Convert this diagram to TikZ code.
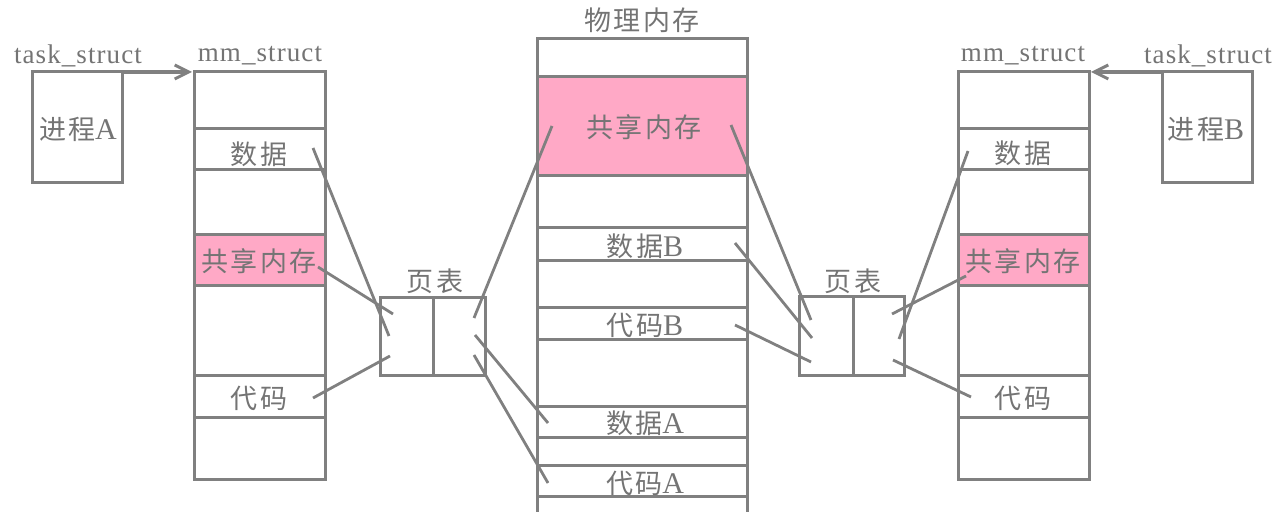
\documentclass[tikz,border=0pt]{standalone}
\usepackage{fontspec}
\setmainfont[LetterSpace=4]{Liberation Serif}
\newfontfamily\cjk[LetterSpace=8]{Noto Sans CJK SC}
\newfontfamily\lat{Liberation Serif}
\usetikzlibrary{arrows.meta}
\definecolor{ln}{HTML}{808080}
\definecolor{tx}{HTML}{747474}
\definecolor{pk}{HTML}{FFA9C6}
\tikzset{
  box/.style={draw=ln,line width=1.5pt},
  lbl/.style={text=tx,inner sep=0pt,font=\fontsize{13.5}{15}\selectfont},
  clbl/.style={text=tx,inner sep=0pt,font=\fontsize{13.5}{15}\selectfont\cjk},
  link/.style={draw=ln,line width=1.4pt},
  ptr/.style={draw=ln,line width=1.6pt,-{Straight Barb[length=7pt,width=7pt,line width=1.5pt]}},
}
\newcommand{\Lt}[1]{{\lat\fontsize{15}{15}\selectfont #1}}
\begin{document}
\begin{tikzpicture}[x=0.5pt,y=-0.5pt]
\useasboundingbox (0,0) rectangle (1280,512);
% ---------- left task_struct ----------
\node[lbl] (tsA) at (78,56) {task\_struct};
\draw[box] (32,72) rectangle (122,183);
\node[clbl] (pA) at (78,129) {进程\Lt{A}};
\coordinate (tA) at (122,72);
% ---------- left mm_struct ----------
\node[lbl] (mmA) at (260,56) {mm\_struct};
\fill[pk] (194,235) rectangle (325,286);
\draw[box] (194,72) rectangle (325,480);
\foreach \y in {129,170,235,286,376,418} \draw[box] (194,\y) -- (325,\y);
\coordinate (mA) at (192,72);
\node[clbl] (dA) at (259,154) {数据};
\node[clbl] (sA) at (259,261) {共享内存};
\node[clbl] (cA) at (259,398) {代码};
% ---------- left page table ----------
\node[clbl] (ptA) at (435,281) {页表};
\draw[box] (380,298) rectangle (485,376);
\draw[box] (433,298) -- (433,376);
% ---------- physical memory ----------
\node[clbl] (phy) at (642,20) {物理内存};
\fill[pk] (537,77) rectangle (747,176);
\draw[box] (537,513) -- (537,39) -- (747,39) -- (747,513);
\foreach \y in {77,176,228,261,308,340,407,438,466,497} \draw[box] (537,\y) -- (747,\y);
\node[clbl] (sP) at (644,127) {共享内存};
\node[clbl] (dB) at (645,246) {数据\Lt{B}};
\node[clbl] (cB) at (645,325) {代码\Lt{B}};
\node[clbl] (dPA) at (645,423) {数据\Lt{A}};
\node[clbl] (cPA) at (645,483) {代码\Lt{A}};
% ---------- right page table ----------
\node[clbl] (ptB) at (853,281) {页表};
\draw[box] (799,297) rectangle (904,376);
\draw[box] (853,297) -- (853,376);
% ---------- right mm_struct ----------
\node[lbl] (mmB) at (1023,56) {mm\_struct};
\fill[pk] (958,235) rectangle (1089,286);
\draw[box] (958,72) rectangle (1089,480);
\foreach \y in {129,170,235,286,376,418} \draw[box] (958,\y) -- (1089,\y);
\coordinate (mB) at (1091,72);
\node[clbl] (dR) at (1023,153) {数据};
\node[clbl] (sR) at (1023,261) {共享内存};
\node[clbl] (cR) at (1023,398) {代码};
% ---------- right task_struct ----------
\node[lbl] (tsB) at (1208,56) {task\_struct};
\draw[box] (1162,72) rectangle (1252,183);
\node[clbl] (pB) at (1206,129) {进程\Lt{B}};
\coordinate (tB) at (1162,72);
% ---------- pointers ----------
\draw[ptr] (tA) -- (mA);
\draw[ptr] (tB) -- (mB);
% ---------- link end points ----------
\coordinate (a1) at (313,148); \coordinate (a1e) at (389,336);
\coordinate (a2) at (318,267); \coordinate (a2e) at (393,314);
\coordinate (a3) at (313,398); \coordinate (a3e) at (390,356);
\coordinate (b1) at (474,318); \coordinate (b1e) at (552,126);
\coordinate (b2) at (475,335); \coordinate (b2e) at (548,423);
\coordinate (b3) at (474,355); \coordinate (b3e) at (548,483);
\coordinate (c1) at (731,125); \coordinate (c1e) at (811,320);
\coordinate (c2) at (735,243); \coordinate (c2e) at (812,338);
\coordinate (c3) at (735,325); \coordinate (c3e) at (811,362);
\coordinate (d1) at (892,314); \coordinate (d1e) at (966,276);
\coordinate (d2) at (899,339); \coordinate (d2e) at (968,151);
\coordinate (d3) at (893,360); \coordinate (d3e) at (971,397);
\foreach \p in {a1,a2,a3,b1,b2,b3,c1,c2,c3,d1,d2,d3} \draw[link] (\p) -- (\p e);
\end{tikzpicture}
\end{document}
